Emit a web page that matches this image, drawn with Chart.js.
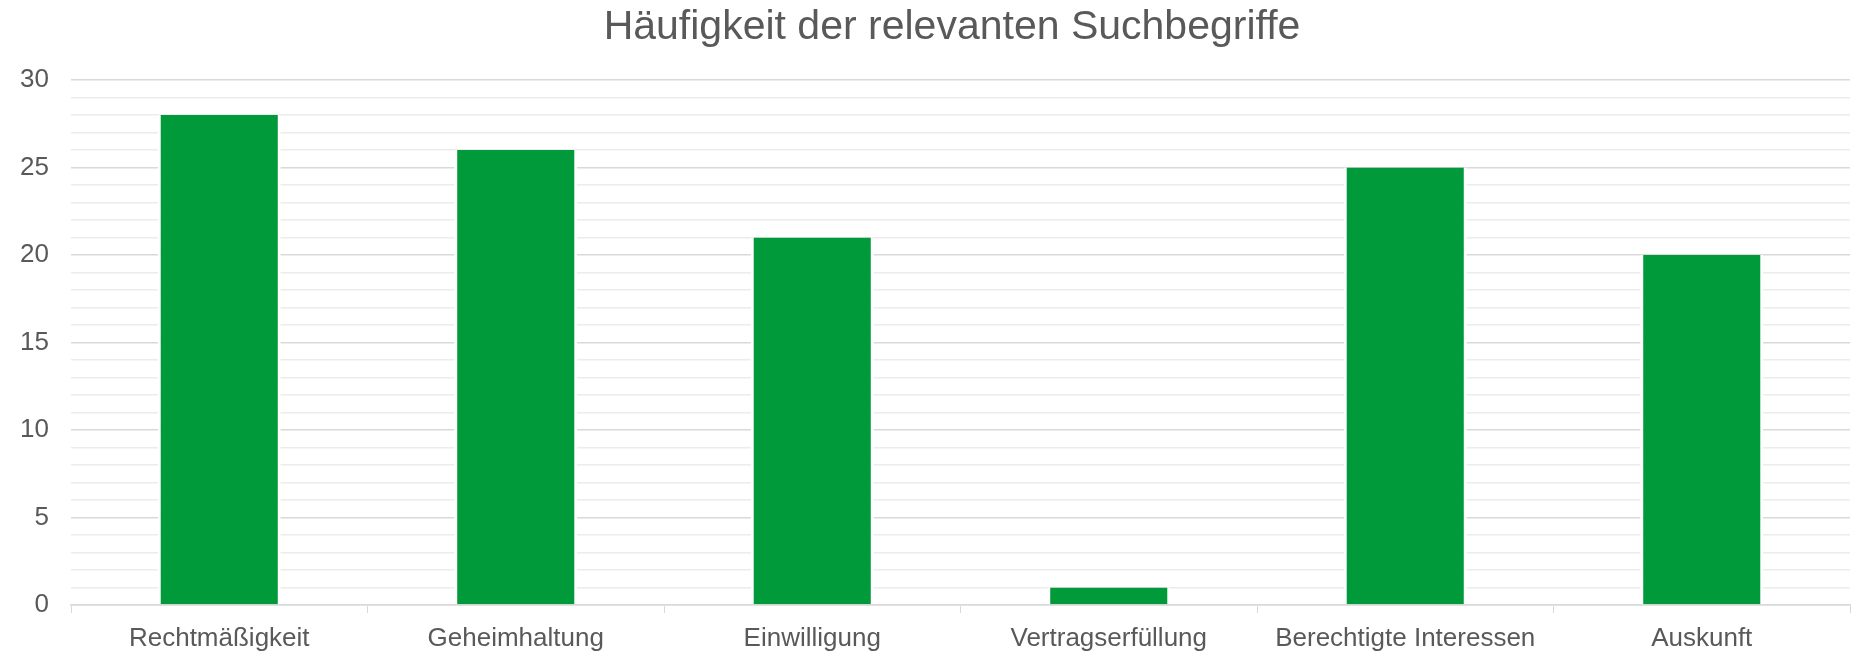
<!DOCTYPE html>
<html><head><meta charset="utf-8">
<script src="https://cdn.jsdelivr.net/npm/chart.js@4.4.1/dist/chart.umd.min.js"></script>
<style>html,body{margin:0;padding:0;background:#fff}#wrap{width:1865px;height:653px}</style>
</head><body><div id="wrap"><canvas id="c" width="1865" height="653"></canvas></div>
<script>
const categories = ['Rechtmäßigkeit','Geheimhaltung','Einwilligung','Vertragserfüllung','Berechtigte Interessen','Auskunft'];
const values = [28, 26, 21, 1, 25, 20];
const titleText = 'Häufigkeit der relevanten Suchbegriffe';
const yMax = 30;

const FONT = '"Liberation Sans", Arial, sans-serif';
const titlePlugin = {
  id: 'offsetTitle',
  afterDraw(chart) {
    const ctx = chart.ctx;
    ctx.save();
    ctx.font = '41px ' + FONT;
    ctx.fillStyle = '#595959';
    ctx.textAlign = 'center';
    ctx.textBaseline = 'middle';
    ctx.fillText(titleText, 952, 28);
    ctx.restore();
  }
};
new Chart(document.getElementById('c'), {
  type: 'bar',
  data: { labels: categories, datasets: [{
    data: values,
    backgroundColor: '#009a3a',
    borderColor: '#ffffff',
    borderWidth: {left: 3, right: 3, top: 0, bottom: 0},
    borderSkipped: false,
    categoryPercentage: 1,
    barPercentage: 0.415
  }]},
  plugins: [titlePlugin],
  options: {
    responsive: false, animation: false,
    layout: { padding: { left: 0, right: 15, top: 80, bottom: 0 } },
    plugins: {
      legend: { display: false },
      tooltip: { enabled: false },
      title: { display: false }
    },
    scales: {
      x: {
        offset: true,
        grid: { offset: true, drawOnChartArea: false, drawTicks: true, tickLength: 8, color: '#d9d9d9', lineWidth: 1 },
        border: { color: '#d9d9d9', width: 1.5 },
        ticks: { color: '#595959', font: { family: FONT, size: 26 }, padding: 10, maxRotation: 0, autoSkip: false },
        afterFit: s => { s.height = 48; }
      },
      y: {
        min: 0, max: yMax,
        ticks: { stepSize: 1, autoSkip: false, color: '#595959', font: { family: FONT, size: 26 }, padding: 22,
          callback: v => (v % 5 === 0 ? v : '') },
        grid: { drawTicks: false, color: c => (c.tick && c.tick.value % 5 === 0 ? '#d9d9d9' : '#ececec'), lineWidth: 1.5 },
        border: { display: false },
        afterFit: s => { s.width = 71; }
      }
    }
  }
});
</script></body></html>
